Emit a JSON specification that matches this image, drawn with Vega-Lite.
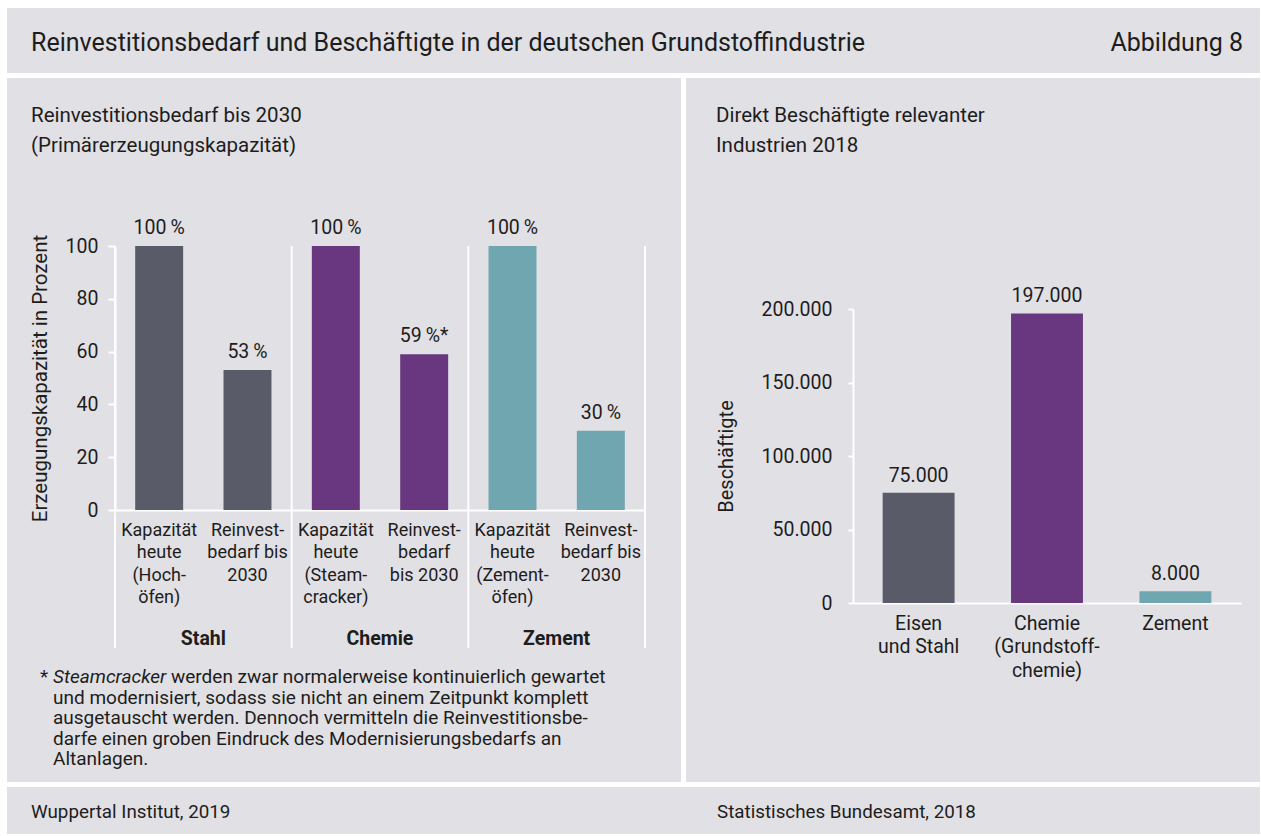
{
  "$schema": "https://vega.github.io/schema/vega-lite/v6.json",
  "background": "white",
  "padding": {"left": 7, "top": 8, "right": 1, "bottom": 2},
  "spacing": 5,
  "config": {
    "font": "Roboto",
    "view": {"fill": "#e1e0e5", "stroke": null},
    "locale": {"number": {"decimal": ",", "thousands": ".", "grouping": [3], "currency": ["", " €"]}},
    "text": {"color": "#1d1d1b", "font": "Roboto"},
    "axis": {"labelFont": "Roboto", "titleFont": "Roboto", "labelColor": "#1d1d1b", "titleColor": "#1d1d1b", "domainColor": "white", "tickColor": "white", "grid": false, "titleFontWeight": "normal"}
  },
  "datasets": {
    "reinvest": [
      {"group": "Stahl", "key": "Stahl|Kapazität|heute|(Hoch-|öfen)", "value": 100, "label": "100\u2009%"},
      {"group": "Stahl", "key": "Stahl|Reinvest-|bedarf bis|2030", "value": 53, "label": "53\u2009%"},
      {"group": "Chemie", "key": "Chemie|Kapazität|heute|(Steam-|cracker)", "value": 100, "label": "100\u2009%"},
      {"group": "Chemie", "key": "Chemie|Reinvest-|bedarf|bis 2030", "value": 59, "label": "59\u2009%*"},
      {"group": "Zement", "key": "Zement|Kapazität|heute|(Zement-|öfen)", "value": 100, "label": "100\u2009%"},
      {"group": "Zement", "key": "Zement|Reinvest-|bedarf bis|2030", "value": 30, "label": "30\u2009%"}
    ],
    "groups": [
      {"group": "Stahl"},
      {"group": "Chemie"},
      {"group": "Zement"}
    ],
    "employment": [
      {"sector": "Stahl", "industry": "Eisen|und Stahl", "value": 75000},
      {"sector": "Chemie", "industry": "Chemie|(Grundstoff-|chemie)", "value": 197000},
      {"sector": "Zement", "industry": "Zement", "value": 8000}
    ]
  },
  "vconcat": [
    {
      "width": 1253,
      "height": 65,
      "view": {"fill": "#e1e0e5", "stroke": null},
      "layer": [
        {
          "data": {"values": [{"text": "Reinvestitionsbedarf und Beschäftigte in der deutschen Grundstoffindustrie"}]},
          "mark": {"type": "text", "align": "left", "baseline": "middle", "fontSize": 25, "x": 24, "y": 35},
          "encoding": {"text": {"field": "text"}}
        },
        {
          "data": {"values": [{"text": "Abbildung 8"}]},
          "mark": {"type": "text", "align": "right", "baseline": "middle", "fontSize": 25, "x": 1236, "y": 35},
          "encoding": {"text": {"field": "text"}}
        }
      ]
    },
    {
      "spacing": 5,
      "hconcat": [
        {
          "width": 674,
          "height": 704,
          "layer": [
            {
              "data": {"values": [{"text": "Reinvestitionsbedarf bis 2030\n(Primärerzeugungskapazität)"}]},
              "mark": {"type": "text", "align": "left", "baseline": "middle", "fontSize": 20.5, "lineHeight": 30, "lineBreak": "\n", "x": 24, "y": 38},
              "encoding": {"text": {"field": "text"}}
            },
            {
              "data": {"values": [{"text": "*"}]},
              "mark": {"type": "text", "align": "left", "baseline": "middle", "fontSize": 19, "x": 33, "y": 599},
              "encoding": {"text": {"field": "text"}}
            },
            {
              "data": {"values": [{"text": "Steamcracker"}]},
              "mark": {"type": "text", "align": "left", "baseline": "middle", "fontSize": 19, "fontStyle": "italic", "x": 46, "y": 599},
              "encoding": {"text": {"field": "text"}}
            },
            {
              "data": {"values": [{"text": "werden zwar normalerweise kontinuierlich gewartet"}]},
              "mark": {"type": "text", "align": "left", "baseline": "middle", "fontSize": 19, "x": 164, "y": 599},
              "encoding": {"text": {"field": "text"}}
            },
            {
              "data": {"values": [{"text": "und modernisiert, sodass sie nicht an einem Zeitpunkt komplett\nausgetauscht werden. Dennoch vermitteln die Reinvestitionsbe-\ndarfe einen groben Eindruck des Modernisierungsbedarfs an\nAltanlagen."}]},
              "mark": {"type": "text", "align": "left", "baseline": "middle", "fontSize": 19, "lineHeight": 20.5, "lineBreak": "\n", "x": 46, "y": 619.5},
              "encoding": {"text": {"field": "text"}}
            },
            {
              "resolve": {"scale": {"x": "independent"}, "axis": {"x": "independent"}},
              "layer": [
                {
                  "data": {"name": "reinvest"},
                  "encoding": {
                    "x": {
                      "field": "key", "type": "nominal",
                      "scale": {
                        "domain": ["Stahl|Kapazität|heute|(Hoch-|öfen)", "Stahl|Reinvest-|bedarf bis|2030", "Chemie|Kapazität|heute|(Steam-|cracker)", "Chemie|Reinvest-|bedarf|bis 2030", "Zement|Kapazität|heute|(Zement-|öfen)", "Zement|Reinvest-|bedarf bis|2030"],
                        "range": [108, 638], "paddingInner": 0.457, "paddingOuter": 0.2285
                      },
                      "axis": {
                        "orient": "bottom", "offset": -272, "title": null, "ticks": false,
                        "domainWidth": 2, "labelAngle": 0, "labelFontSize": 18, "labelPadding": 11,
                        "labelLineHeight": 22.5, "labelOverlap": false, "labelBound": false, "labelLimit": 0,
                        "labelExpr": "slice(split(datum.label, '|'), 1)"
                      }
                    },
                    "y": {
                      "field": "value", "type": "quantitative",
                      "scale": {"domain": [0, 100], "range": [432, 168], "nice": false, "zero": true},
                      "axis": {
                        "orient": "left", "offset": -108, "values": [0, 20, 40, 60, 80, 100],
                        "tickSize": 7, "tickWidth": 2, "domainWidth": 2, "labelFontSize": 19.5, "labelPadding": 10,
                        "title": "Erzeugungskapazität in Prozent", "titleFontSize": 20.5,
                        "titleX": -75, "titleY": 300, "titleAngle": -90, "titleBaseline": "middle", "titleAlign": "center"
                      }
                    }
                  },
                  "layer": [
                    {
                      "mark": {"type": "bar"},
                      "encoding": {
                        "color": {"field": "group", "type": "nominal", "legend": null,
                          "scale": {"domain": ["Stahl", "Chemie", "Zement"], "range": ["#5a5b68", "#68377f", "#70a6af"]}}
                      }
                    },
                    {
                      "mark": {"type": "text", "baseline": "alphabetic", "dy": -12, "fontSize": 19.5},
                      "encoding": {"text": {"field": "label"}}
                    }
                  ]
                },
                {
                  "data": {"name": "groups"},
                  "layer": [
                    {
                      "mark": {"type": "rule", "color": "white", "strokeWidth": 2},
                      "encoding": {
                        "x": {
                          "field": "group", "type": "nominal", "bandPosition": 0,
                          "scale": {"domain": ["Stahl", "Chemie", "Zement"], "range": [108, 638], "paddingInner": 0, "paddingOuter": 0},
                          "axis": {
                            "orient": "bottom", "offset": -150, "title": null, "ticks": false, "domain": false,
                            "labelAngle": 0, "labelFontSize": 19.5, "labelFontWeight": "bold", "labelPadding": 6,
                            "labelBaseline": "middle", "labelOverlap": false
                          }
                        },
                        "y": {"datum": 100},
                        "y2": {"value": 570}
                      }
                    },
                    {
                      "transform": [{"filter": "datum.group == 'Zement'"}],
                      "mark": {"type": "rule", "color": "white", "strokeWidth": 2},
                      "encoding": {
                        "x": {"field": "group", "type": "nominal", "bandPosition": 1},
                        "y": {"datum": 100},
                        "y2": {"value": 570}
                      }
                    }
                  ]
                }
              ]
            }
          ]
        },
        {
          "width": 574,
          "height": 704,
          "layer": [
            {
              "data": {"values": [{"text": "Direkt Beschäftigte relevanter\nIndustrien 2018"}]},
              "mark": {"type": "text", "align": "left", "baseline": "middle", "fontSize": 20.5, "lineHeight": 30, "lineBreak": "\n", "x": 30, "y": 38},
              "encoding": {"text": {"field": "text"}}
            },
            {
              "data": {"name": "employment"},
              "encoding": {
                "x": {
                  "field": "industry", "type": "nominal",
                  "scale": {"domain": ["Eisen|und Stahl", "Chemie|(Grundstoff-|chemie)", "Zement"], "range": [167, 555], "paddingInner": 0.44, "paddingOuter": 0.231},
                  "axis": {
                    "orient": "bottom", "offset": -179, "title": null, "ticks": false,
                    "domainWidth": 2, "labelAngle": 0, "labelFontSize": 19.5, "labelPadding": 11,
                    "labelLineHeight": 23.5, "labelOverlap": false, "labelBound": false, "labelLimit": 0,
                    "labelExpr": "split(datum.label, '|')"
                  }
                },
                "y": {
                  "field": "value", "type": "quantitative",
                  "scale": {"domain": [0, 200000], "range": [525, 231], "nice": false, "zero": true},
                  "axis": {
                    "orient": "left", "offset": -167, "values": [0, 50000, 100000, 150000, 200000], "format": ",.0f",
                    "tickSize": 5, "tickWidth": 2, "domainWidth": 2, "labelFontSize": 19.5, "labelPadding": 16,
                    "title": "Beschäftigte", "titleFontSize": 20,
                    "titleX": -127, "titleY": 378, "titleAngle": -90, "titleBaseline": "middle", "titleAlign": "center"
                  }
                }
              },
              "layer": [
                {
                  "mark": {"type": "bar"},
                  "encoding": {
                    "color": {"field": "sector", "type": "nominal", "legend": null,
                      "scale": {"domain": ["Stahl", "Chemie", "Zement"], "range": ["#5a5b68", "#68377f", "#70a6af"]}}
                  }
                },
                {
                  "mark": {"type": "text", "baseline": "alphabetic", "dy": -11, "fontSize": 19.5},
                  "encoding": {"text": {"field": "value", "type": "quantitative", "format": ",.0f"}}
                }
              ]
            }
          ]
        }
      ]
    },
    {
      "width": 1253,
      "height": 47,
      "view": {"fill": "#e1e0e5", "stroke": null},
      "layer": [
        {
          "data": {"values": [{"text": "Wuppertal Institut, 2019"}]},
          "mark": {"type": "text", "align": "left", "baseline": "middle", "fontSize": 18.8, "x": 24, "y": 25},
          "encoding": {"text": {"field": "text"}}
        },
        {
          "data": {"values": [{"text": "Statistisches Bundesamt, 2018"}]},
          "mark": {"type": "text", "align": "left", "baseline": "middle", "fontSize": 18.8, "x": 710, "y": 25},
          "encoding": {"text": {"field": "text"}}
        }
      ]
    }
  ]
}
